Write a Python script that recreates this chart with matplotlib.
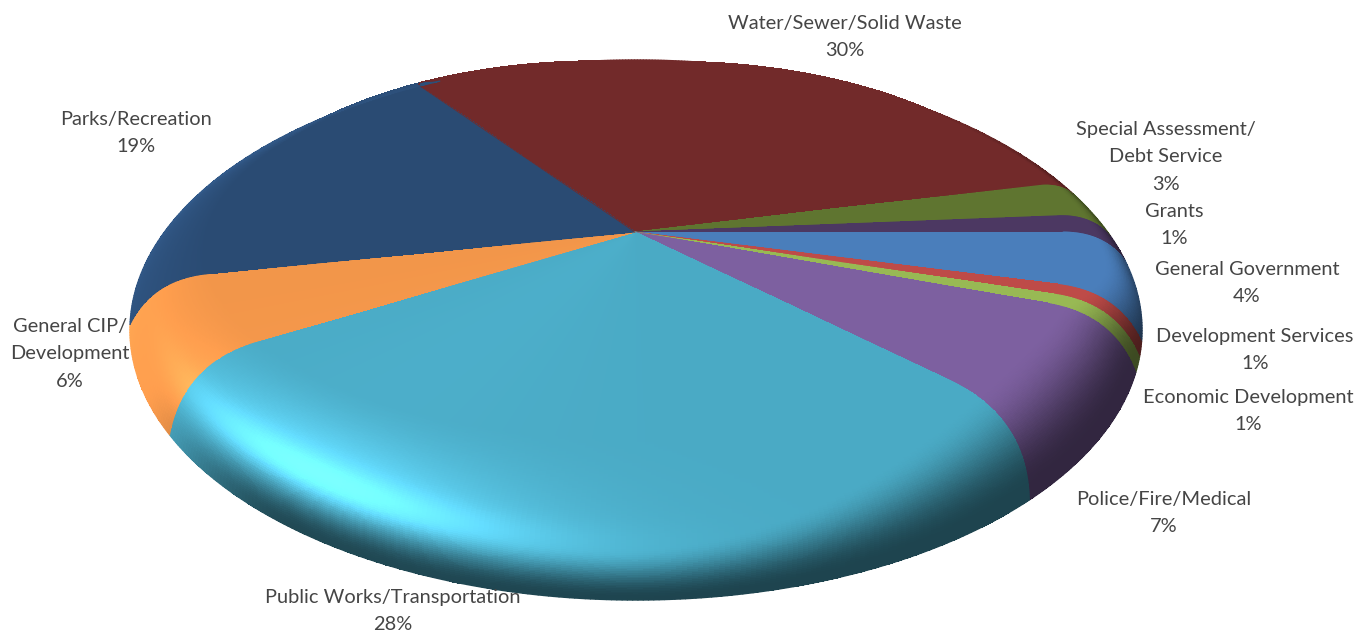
import numpy as np
import matplotlib
matplotlib.use('Agg')
import matplotlib.pyplot as plt
from matplotlib.collections import LineCollection

# clockwise from the Water slice, shares in percent
categories = ['Water/Sewer/Solid Waste', 'Special Assessment/\nDebt Service', 'Grants',
              'General Government', 'Development Services', 'Economic Development',
              'Police/Fire/Medical', 'Public Works/Transportation',
              'General CIP/\nDevelopment', 'Parks/Recreation']
shares = [30.0, 2.7, 1.4, 4.4, 0.8, 0.8, 7.1, 27.6, 5.8, 19.4]
percent_labels = ['30%', '3%', '1%', '4%', '1%', '1%', '7%', '28%', '6%', '19%']
slice_colors = ['#722A2A', '#5F7530', '#4C3862', '#4A7EBB', '#BE4B48',
                '#98B954', '#7D60A0', '#4AAAC5', '#F2964A', '#2A4B73']
label_x = [845, 1166, 1174, 1247, 1255, 1248, 1164, 393, 70, 136]
label_y = [37, 157, 225, 283, 350, 411, 513, 611, 354, 133]

APEX_X, APEX_Y = 635, 232
FLAT_A, FLAT_B, TILT = 428, 187, 0.1005
RIM_X, RIM_Y, RIM_A, RIM_B = 636, 330, 506, 270


def smooth(x, a, b):
    u = np.clip((x - a) / (b - a), 0, 1)
    return u * u * (3 - 2 * u)


def flat_point(theta, s):
    rad = np.radians(theta)
    x = s * np.sin(rad)
    y = -s * np.cos(rad)
    w = 1 - TILT * y
    return APEX_X + FLAT_A * x / w, APEX_Y + FLAT_B * y / w


def rim_point(theta):
    rad = np.radians(theta)
    phi = np.radians(theta - 15 * np.sin(rad) - 2 * np.sin(2 * rad))
    return RIM_X + RIM_A * np.sin(phi), RIM_Y - RIM_B * np.cos(phi)


def bevel_point(theta, t):
    px, py = flat_point(theta, 1.0)
    qx, qy = rim_point(theta)
    dx, dy = px - APEX_X, py - APEX_Y
    norm = np.hypot(dx, dy)
    reach = 0.6 * np.hypot(qx - px, qy - py)
    cx, cy = px + dx / norm * reach, py + dy / norm * reach
    x = (1 - t) ** 2 * px + 2 * t * (1 - t) * cx + t ** 2 * qx
    y = (1 - t) ** 2 * py + 2 * t * (1 - t) * cy + t ** 2 * qy
    return x, y


def shade(theta, t):
    band = 0.25 * np.exp(-((t - 0.55) / 0.35) ** 2) + 0.25 * np.exp(-((t - 0.6) / 0.13) ** 2)
    highlight = band * np.clip(np.cos(np.radians(theta - 213)), 0, 1) ** 12
    depth = 0.6 * smooth(theta, 40, 105) * (1 - smooth(theta, 215, 245))
    near = smooth(theta, 120, 185)
    start = 0.45 - 0.35 * smooth(theta, 95, 115) + 0.55 * near
    width = 0.8 - 0.47 * near
    dark = 1 - depth * smooth(t, start, start + width)
    left = 0.2 * np.exp(-((theta - 285) / 35) ** 2) * t
    return (1 + highlight + left) * dark, highlight


def slice_rgb(theta, t, base):
    factor, highlight = shade(theta, t)
    return np.clip(factor[..., None] * base + 0.1 * highlight[..., None], 0, 1)


def edge_lines(x, y, colors, width):
    points = np.column_stack([x, y])
    segments = np.stack([points[:-1], points[1:]], axis=1)
    ax.add_collection(LineCollection(segments, colors=colors, linewidths=width, capstyle='round'))


fig = plt.figure(figsize=(13.71, 6.33), dpi=100)
ax = fig.add_axes([0, 0, 1, 1])
ax.set_xlim(0, 1371)
ax.set_ylim(633, 0)
ax.axis('off')

# the slice edge sits where the Grants slice ends, pointing due right
angle = 90 - sum(shares[:3]) * 3.6
for share, color in zip(shares, slice_colors):
    span = share * 3.6
    theta = np.linspace(angle, angle + span, max(int(span * 2), 6) + 1)
    s_grid = np.linspace(0, 1, 5)
    t_grid = np.linspace(0, 1, 81)

    th_flat, s = np.meshgrid(theta, s_grid)
    x_flat, y_flat = flat_point(th_flat, s)
    th_bev, t = np.meshgrid(theta, t_grid)
    x_bev, y_bev = bevel_point(th_bev, t)
    X = np.vstack([x_flat, x_bev[1:]])
    Y = np.vstack([y_flat, y_bev[1:]])

    th_mid = (theta[:-1] + theta[1:]) / 2
    t_mid = np.concatenate([np.zeros(len(s_grid) - 1), (t_grid[:-1] + t_grid[1:]) / 2])
    th_c, t_c = np.meshgrid(th_mid, t_mid)
    base = np.array(matplotlib.colors.to_rgb(color))
    C = slice_rgb(th_c, t_c, base)
    ax.pcolormesh(X, Y, C, linewidth=0, antialiased=False)

    # smooth the outer rim and the edge shared with the slice before
    rim_c = slice_rgb(th_mid, np.full_like(th_mid, 0.99), base)
    edge_lines(X[-1], Y[-1], rim_c, 1.0)
    edge_lines(X[:, 0], Y[:, 0], C[:, 0], 0.6)
    angle += span

for name, pct, x, y in zip(categories, percent_labels, label_x, label_y):
    ax.text(x, y, name + '\n' + pct, ha='center', va='center', fontsize=14.45,
            family='Lato', color='#454545', linespacing=1.76)

fig.savefig('out.png', dpi=100)
